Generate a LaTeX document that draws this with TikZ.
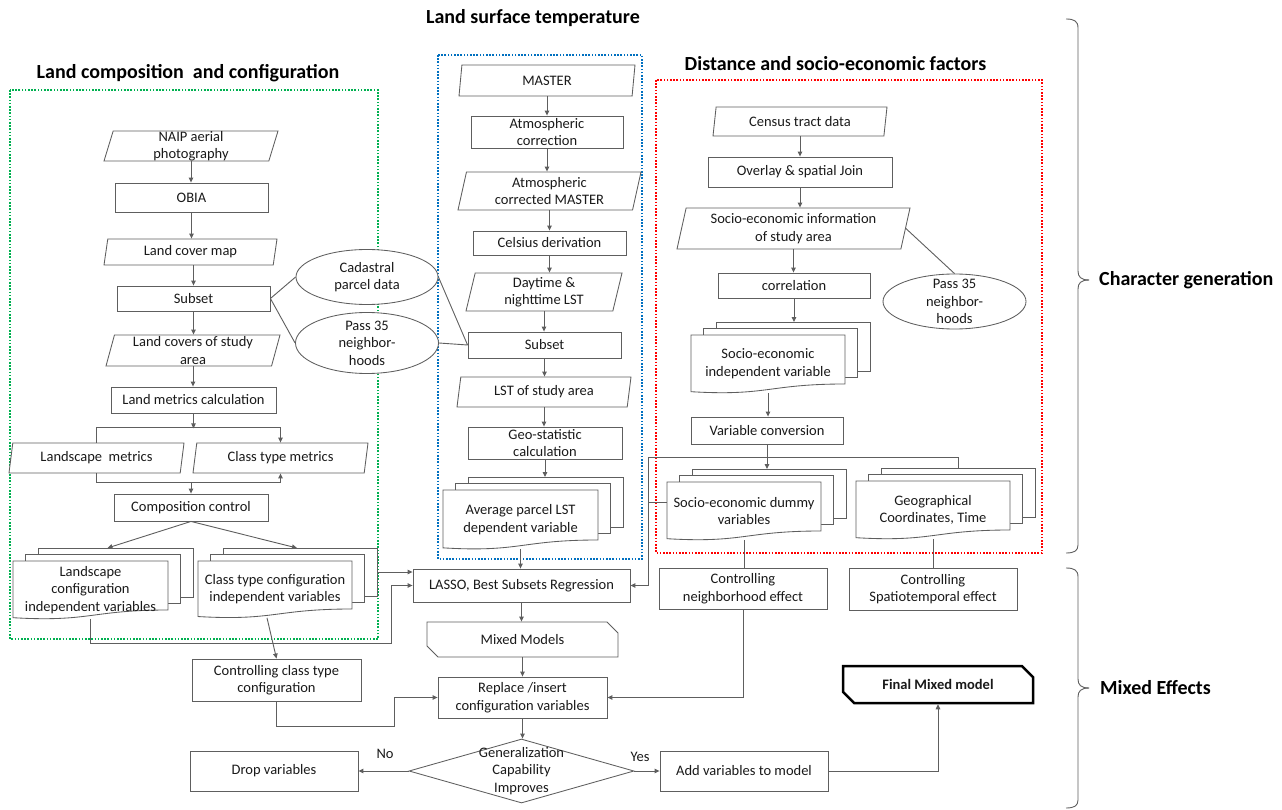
\documentclass[tikz,border=0pt]{standalone}
\usepackage{fontspec}
\setmainfont{Carlito}
\usetikzlibrary{shapes.geometric,shapes.misc,arrows.meta,calc}
\definecolor{lc}{HTML}{5E5E5E}
\definecolor{tc}{HTML}{1A1A1A}
\definecolor{gdot}{HTML}{00B050}
\definecolor{bdot}{HTML}{0070C0}
\definecolor{rdot}{HTML}{FF0000}
\newcommand\bodyfont{\fontsize{14.5}{17.5}\selectfont}
\newcommand\titlefont{\fontsize{20}{24}\selectfont\bfseries}
\tikzset{
  ln/.style={draw=lc, line width=0.9pt},
  arr/.style={ln, -{Triangle[length=5pt,width=4.5pt]}},
  txt/.style={font=\bodyfont, text=tc, align=center, inner sep=0pt},
  title/.style={font=\titlefont, text=black, inner sep=0pt},
  sz/.style 2 args={minimum width=#1pt, minimum height=#2pt},
  shp/.style={draw=lc, line width=0.85pt, fill=white},
  rbox/.style={txt, shp, rectangle},
  pbox/.style={txt, shp, trapezium, trapezium left angle=73, trapezium right angle=107, trapezium stretches body},
  ebox/.style={shp, ellipse, inner sep=0pt},
  dbox/.style={shp, diamond, inner sep=0pt},
  cbox/.style={txt, shp, chamfered rectangle, chamfered rectangle corners={north east,south west}, chamfered rectangle xsep=6pt, chamfered rectangle ysep=6pt},
  fbox/.style={draw=black, line width=2.5pt},
  frame/.style={line width=2pt, dash pattern=on 1.6pt off 1.6pt},
}
% multi-document: name, x0, y0 (front top-left), width, straight height, text
\newcommand\mdoc[6]{%
  \filldraw[shp] ({#2+25},{#3-13}) rectangle ++({#4},{#5});
  \filldraw[shp] ({#2+12.5},{#3-6.5}) rectangle ++({#4},{#5});
  \filldraw[shp] (#2,#3) -- ({#2+#4},#3) -- ({#2+#4},{#3+#5}) .. controls ({#2+#4/2},{#3+#5}) and ({#2+#4/2},{#3+1.25*#5}) .. (#2,{#3+1.157*#5}) -- cycle;
  \node[txt, sz={#4}{1.18*#5}] (#1) at ({#2+#4/2},{#3+0.59*#5}) {#6};
  \coordinate (#1-b) at ({#2+25+#4/2},{#3-13});
  \coordinate (#1-be) at ({#2+25+#4},{#3-13+#5/2});
}
\begin{document}
\begin{tikzpicture}[x=1pt, y=-1pt]
\useasboundingbox (0,0) rectangle (1282,810);
\fill[white] (0,0) rectangle (1282,810);

% frames
\draw[frame, gdot] (10,90) rectangle (378,639);
\draw[frame, bdot] (438,55) rectangle (642,559);
\draw[frame, rdot] (656,80) rectangle (1042,553);

% titles
\node[title] (t1) at (188,73) {Land composition~ and configuration};
\node[title] (t2) at (533,18) {Land surface temperature};
\node[title] (t3) at (835.5,64) {Distance and socio-economic factors};
\node[title, anchor=west] (t4) at (1099,280) {Character generation};
\node[title, anchor=west] (t5) at (1100,688) {Mixed Effects};

% braces
\draw[ln] (1066,19) .. controls (1074,19) and (1078,21) .. (1078,28) -- (1078,271) .. controls (1078,277) and (1081,280) .. (1089,280);
\draw[ln] (1089,280) .. controls (1081,280) and (1078,283) .. (1078,289) -- (1078,545) .. controls (1078,551) and (1074,553) .. (1066,553);
\draw[ln] (1066,568) .. controls (1074,568) and (1078,570) .. (1078,577) -- (1078,679) .. controls (1078,685) and (1081,688) .. (1089,688);
\draw[ln] (1089,688) .. controls (1081,688) and (1078,691) .. (1078,697) -- (1078,800) .. controls (1078,806) and (1074,808) .. (1066,808);

% ---- land composition
\node[pbox, sz={174}{30}] (naip) at (191,146) {NAIP aerial\\photography};
\node[rbox, sz={153}{29}] (obia) at (191.5,197.5) {OBIA};
\node[pbox, sz={173}{26}] (lcm) at (190.5,252) {Land cover map};
\node[rbox, sz={153}{25}] (sub1) at (193.5,298.5) {Subset};
\node[pbox, sz={174}{31}] (lcs) at (193,350.5) {Land covers of study\\area};
\node[rbox, sz={165}{26}] (lmc) at (193.5,400) {Land metrics calculation};
\node[pbox, sz={175}{30}] (lsm) at (96.5,458) {Landscape~ metrics};
\node[pbox, sz={175}{30}] (ctm) at (280.5,458) {Class type metrics};
\node[rbox, sz={154}{27}] (cc) at (191,507.5) {Composition control};
\mdoc{lcv}{13}{561}{155}{49}{Landscape\\configuration\\independent variables}
\mdoc{ccv}{198}{561}{154}{48}{Class type configuration\\independent variables}
\node[ebox, sz={142}{55}, label={[txt]center:Cadastral\\parcel data}] (cad) at (367,277) {};
\node[ebox, sz={143}{61}, label={[txt]center:Pass 35\\neighbor-\\hoods}] (p35a) at (367,343) {};

% ---- LST
\node[pbox, sz={176}{31}] (master) at (547,80.5) {MASTER};
\node[rbox, sz={152}{32}] (atc) at (547,132) {Atmospheric\\correction};
\node[pbox, sz={183}{38}] (acm) at (549.5,191) {Atmospheric\\corrected MASTER};
\node[rbox, sz={153}{24}] (cel) at (549.5,243) {Celsius derivation};
\node[pbox, sz={156}{38}] (dn) at (544,292) {Daytime \&\\nighttime LST};
\node[rbox, sz={153}{26}] (sub2) at (544.5,345) {Subset};
\node[pbox, sz={174}{30}] (lsa) at (544,392) {LST of study area};
\node[rbox, sz={154}{32}] (geo) at (545,443) {Geo-statistic\\calculation};
\mdoc{lst}{443}{490}{155}{50}{Average parcel LST\\dependent variable}

% ---- socio-economic
\node[pbox, sz={174}{29}] (census) at (800,121.5) {Census tract data};
\node[rbox, sz={184}{30}] (ovl) at (800,172) {Overlay \& spatial Join};
\node[pbox, sz={233}{41}] (sei) at (793.5,228.5) {Socio-economic information\\of study area};
\node[rbox, sz={152}{25}] (corr) at (794,285.5) {correlation};
\node[ebox, sz={143}{55}, label={[txt]center:Pass 35\\neighbor-\\hoods}] (p35b) at (954.5,301.5) {};
\mdoc{sev}{691}{335}{154}{49}{Socio-economic\\independent variable}
\node[rbox, sz={152}{27}] (vc) at (767,430.5) {Variable conversion};
\mdoc{sed}{667}{482}{154}{49}{Socio-economic dummy\\variables}
\mdoc{gct}{856}{481}{154}{49}{Geographical\\Coordinates, Time}
\node[rbox, sz={168}{41}] (cne) at (743,588.5) {Controlling\\neighborhood effect};
\node[rbox, sz={168}{42}] (cse) at (933,589) {Controlling\\Spatiotemporal effect};

% ---- mixed effects
\node[rbox, sz={217}{33}] (lasso) at (521.5,585.5) {LASSO, Best Subsets Regression};
\node[cbox, sz={191}{35}] (mm) at (522.5,639.5) {Mixed Models};
\node[rbox, sz={169}{41}] (rep) at (522.5,697.5) {Replace /insert\\configuration variables};
\node[dbox, sz={225}{64}, label={[txt]center:Generalization\\Capability\\Improves}] (dec) at (521.5,771) {};
\node[rbox, sz={168}{40}] (drop) at (274,771) {Drop variables};
\node[rbox, sz={168}{40}] (add) at (744,771) {Add variables to model};
\node[rbox, sz={169}{42}] (cct) at (276.5,680) {Controlling class type\\configuration};
\node[cbox, fbox, sz={190}{37}] (fmm) at (938,684.5) {\bfseries Final Mixed model};
\node[txt] (no) at (385,754) {No};
\node[txt] (yes) at (640,757) {Yes};

% ---- connectors: land composition
\draw[arr] (naip.center |- naip.south) -- (naip.center |- obia.north);
\draw[arr] (obia.south) -- (obia.south |- lcm.north);
\draw[arr] (sub1.center |- lcm.south) -- (sub1.north);
\draw[arr] (sub1.south) -- (sub1.south |- lcs.north);
\draw[arr] (lcs.center |- lcs.south) -- (lcs.center |- lmc.north);
\draw[arr] (lmc.south) -- ++(0,15);
\draw[arr] (lsm.center |- lsm.north) -- ++(0,-15) -| (ctm.center |- ctm.north);
\draw[arr] (lsm.center |- lsm.south) -- ++(0,9) -| (ctm.center |- ctm.south);
\draw[arr] ($(cc.north |- lsm.south)+(0,9)$) -- (cc.north);
\draw[arr] (cc.south) -- ([xshift=-8pt]lcv-b);
\draw[arr] (cc.south) -- ([xshift=-3pt]ccv-b);
\draw[ln] (sub1.east) -- (cad.west);
\draw[ln] (sub1.east) -- (p35a.west);
\draw[ln] (cad.east) -- (sub2.west);
\draw[ln] (p35a.east) -- (sub2.west);

% ---- connectors: LST
\draw[arr] (master.center |- master.south) -- (master.center |- atc.north);
\draw[arr] (atc.south) -- (atc.south |- acm.north);
\draw[arr] (acm.center |- acm.south) -- (acm.center |- cel.north);
\draw[arr] (cel.south) -- (cel.south |- dn.north);
\draw[arr] (dn.center |- dn.south) -- (dn.center |- sub2.north);
\draw[arr] (sub2.south) -- (sub2.south |- lsa.north);
\draw[arr] (lsa.center |- lsa.south) -- (lsa.center |- geo.north);
\draw[arr] (geo.south) -- (geo.south |- lst-b);
\draw[arr] (lst.south) -- (lst.south |- lasso.north);

% ---- connectors: socio-economic
\draw[arr] (census.center |- census.south) -- (census.center |- ovl.north);
\draw[arr] (ovl.south) -- (ovl.south |- sei.north);
\draw[arr] (sei.center |- sei.south) -- (sei.center |- corr.north);
\draw[arr] (corr.south) -- (corr.south |- sev-b);
\draw[arr] (sev.south) -- (sev.south |- vc.north);
\draw[arr] (vc.south) -- (vc.south |- sed-b);
\draw[ln] (sei.east) -- (p35b.north);
\coordinate (jl) at (648,457);
\draw[ln] (gct-b) -- (gct-b |- jl) -- (jl);
\draw[arr] (jl) |- (lasso.east);
\draw[ln] ([yshift=8pt]sed.west) -- ([yshift=8pt]sed.west -| jl);
\draw[ln] (sed.south) -- (sed.south |- cne.north);
\draw[ln] (gct.south) -- (gct.south |- cse.north);
\draw[arr] (cne.south) |- (rep.east);

% ---- connectors: mixed effects
\draw[arr] (lasso.south) -- (lasso.south |- mm.north);
\draw[arr] (mm.south) -- (mm.south |- rep.north);
\draw[arr] (rep.south) -- (rep.south |- dec.north);
\draw[arr] (dec.west) -- (drop.east);
\draw[arr] (dec.east) -- (add.west);
\draw[arr] (add.east) -| (fmm.south);
\draw[arr] ([xshift=-8pt]ccv.south) -- (cct.north);
\draw[arr] (cct.south) -- ++(0,25) -| ($(rep.west)+(-43,0)$) -- (rep.west);
\draw[arr] (lcv.south) -- ++(0,24) -| ($(lasso.west)+(-21,0)$) -- (lasso.west);
\draw[arr] (ccv-be) -- (ccv-be -| lasso.west);
\end{tikzpicture}
\end{document}
